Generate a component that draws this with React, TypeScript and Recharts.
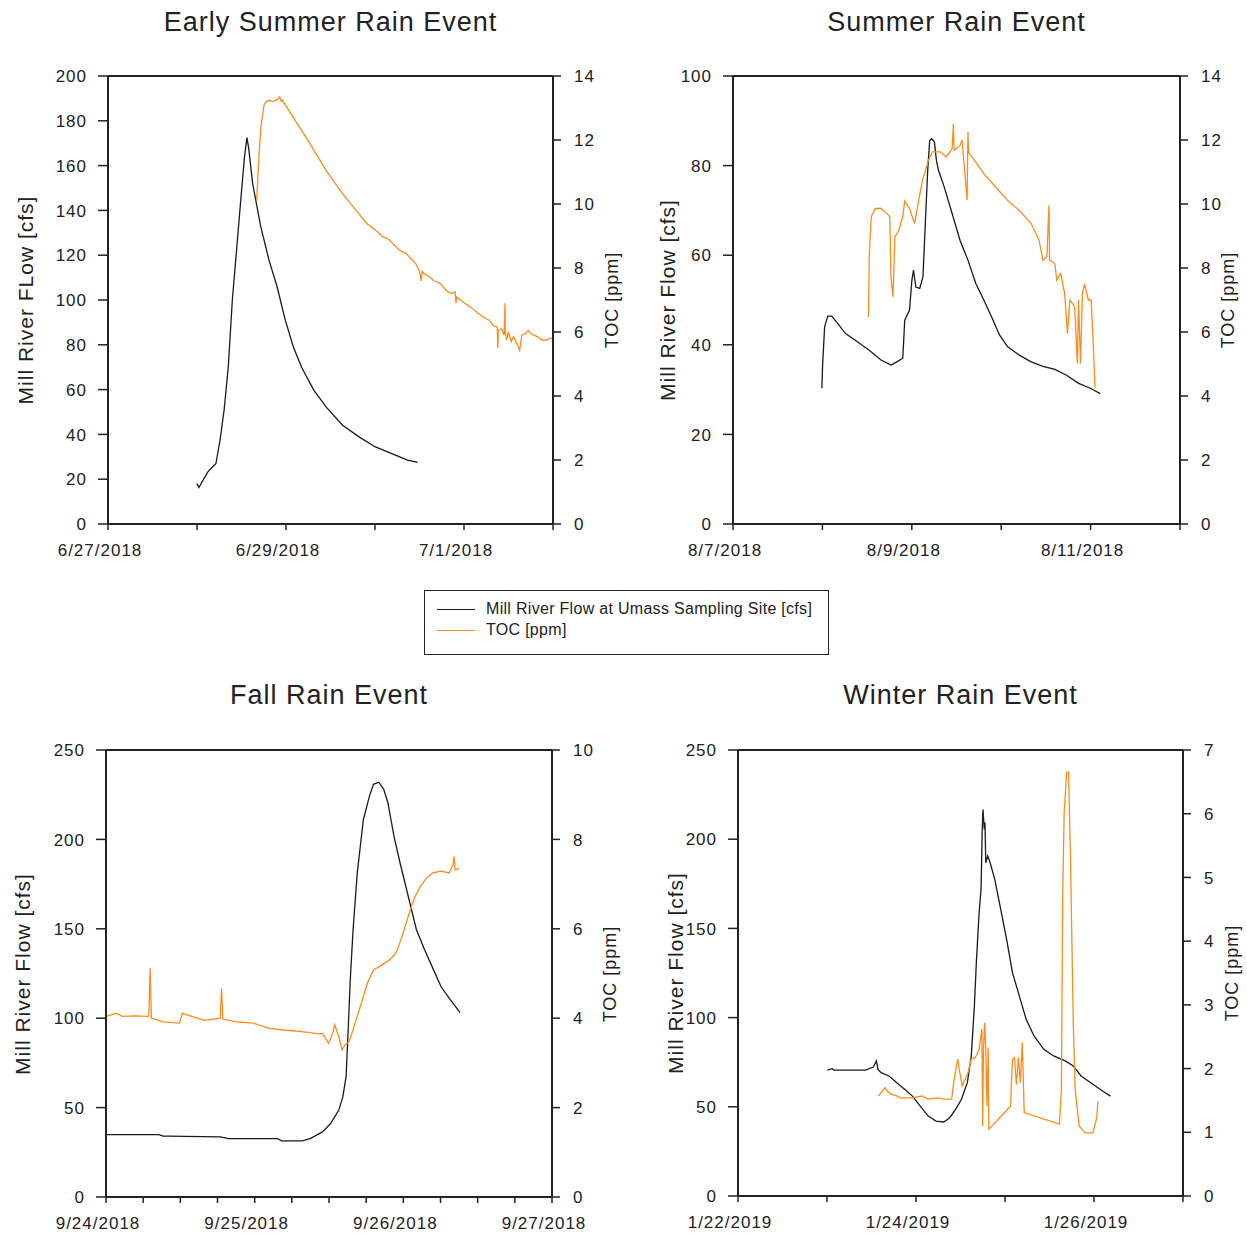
import { LineChart, Line, XAxis, YAxis, ReferenceLine } from 'recharts';

// x values are days since the first date on each panel's axis
const earlyFlow = [
  [0.998, 18], [1.021, 16.3], [1.06, 19], [1.122, 23.3], [1.213, 27], [1.259, 37.5], [1.305, 51],
  [1.351, 70], [1.397, 100], [1.442, 121], [1.488, 143], [1.534, 164], [1.561, 172.5], [1.58, 168],
  [1.625, 152], [1.717, 132.6], [1.809, 117.8], [1.9, 105.9], [1.992, 91], [2.083, 79], [2.175, 70],
  [2.312, 59.8], [2.45, 52.3], [2.633, 44.2], [2.816, 39], [2.999, 34.5], [3.182, 31.5], [3.365, 28.5],
  [3.48, 27.5],
];
const earlyToc = [
  [1.671, 10.1], [1.69, 11.2], [1.717, 12.4], [1.754, 13.1], [1.78, 13.2], [1.809, 13.24], [1.85, 13.2],
  [1.9, 13.26], [1.93, 13.35], [1.946, 13.2], [1.96, 13.25], [1.992, 13.1], [2.083, 12.7], [2.266, 11.9],
  [2.45, 11.05], [2.633, 10.33], [2.816, 9.7], [2.907, 9.39], [2.95, 9.3], [3.0, 9.2], [3.091, 8.97],
  [3.15, 8.9], [3.274, 8.56], [3.35, 8.45], [3.457, 8.14], [3.5, 7.9], [3.52, 7.6], [3.53, 7.9],
  [3.549, 7.83], [3.6, 7.75], [3.66, 7.6], [3.732, 7.52], [3.8, 7.3], [3.85, 7.2], [3.9, 7.25],
  [3.91, 6.9], [3.915, 7.1], [3.98, 6.95], [4.098, 6.73], [4.15, 6.6], [4.2, 6.5], [4.281, 6.37],
  [4.33, 6.2], [4.373, 6.16], [4.38, 5.5], [4.386, 6.05], [4.42, 6.1], [4.45, 5.9], [4.46, 6.9],
  [4.464, 6.0], [4.48, 5.75], [4.5, 6.0], [4.53, 5.7], [4.556, 5.85], [4.6, 5.6], [4.625, 5.43],
  [4.65, 5.9], [4.693, 5.95], [4.72, 6.05], [4.75, 5.95], [4.785, 5.9], [4.83, 5.85], [4.876, 5.75],
  [4.93, 5.75], [4.96, 5.8], [5.0, 5.8],
];

const summerFlow = [
  [0.994, 30.3], [1.003, 35.8], [1.025, 44], [1.06, 46.4], [1.104, 46.4], [1.17, 44.8], [1.259, 42.5],
  [1.391, 40.7], [1.524, 38.8], [1.656, 36.6], [1.767, 35.5], [1.833, 36.2], [1.899, 37], [1.921, 45.5],
  [1.974, 47.7], [2.001, 54.4], [2.019, 56.7], [2.045, 52.9], [2.089, 52.6], [2.125, 55.2], [2.151, 67],
  [2.178, 79], [2.2, 85.6], [2.222, 86], [2.253, 85.3], [2.275, 81.2], [2.297, 79], [2.363, 75.2],
  [2.451, 69.3], [2.54, 63.3], [2.628, 58.9], [2.716, 53.7], [2.805, 50], [2.893, 46.2], [2.981, 42.2],
  [3.07, 39.6], [3.202, 37.7], [3.335, 36.2], [3.467, 35.2], [3.6, 34.5], [3.732, 33.2], [3.865, 31.4],
  [3.997, 30.3], [4.108, 29.1],
];
const summerToc = [
  [1.515, 6.47], [1.524, 8.35], [1.546, 9.6], [1.59, 9.86], [1.656, 9.86], [1.723, 9.7], [1.754, 9.6],
  [1.767, 7.72], [1.789, 7.1], [1.811, 8.97], [1.855, 9.18], [1.899, 9.6], [1.921, 10.1], [1.974, 9.86],
  [2.032, 9.39], [2.076, 10.1], [2.12, 10.74], [2.186, 11.37], [2.231, 11.63], [2.319, 11.63],
  [2.385, 11.47], [2.451, 11.73], [2.465, 12.5], [2.473, 11.68], [2.54, 11.83], [2.562, 12.0],
  [2.619, 10.12], [2.628, 12.25], [2.637, 11.6], [2.716, 11.31], [2.805, 10.95], [2.937, 10.53],
  [3.07, 10.12], [3.202, 9.8], [3.335, 9.39], [3.423, 8.87], [3.467, 8.24], [3.511, 8.35],
  [3.534, 9.96], [3.542, 8.24], [3.6, 8.14], [3.622, 7.62], [3.666, 7.83], [3.71, 7.2], [3.741, 5.95],
  [3.768, 7.0], [3.821, 6.8], [3.852, 5.02], [3.865, 7.0], [3.887, 5.02], [3.909, 7.2], [3.931, 7.5],
  [3.975, 7.0], [4.006, 7.0], [4.028, 5.75], [4.05, 4.24],
];

const fallFlow = [
  [0, 34.9], [0.357, 34.9], [0.385, 34], [0.412, 34], [0.769, 33.6], [0.824, 32.7], [1.154, 32.7],
  [1.181, 31.4], [1.319, 31.4], [1.374, 32.7], [1.456, 36.4], [1.511, 41.1], [1.566, 48.6], [1.593, 56],
  [1.615, 67.3], [1.629, 93.4], [1.643, 121.5], [1.662, 149.5], [1.69, 181.2], [1.731, 211],
  [1.772, 224.2], [1.799, 230.8], [1.835, 232], [1.868, 228], [1.896, 220.5], [1.937, 201.8],
  [1.978, 186.8], [2.033, 168.2], [2.088, 149.5], [2.143, 138.3], [2.198, 128], [2.253, 117.7],
  [2.308, 111.2], [2.382, 103.1],
];
const fallToc = [
  [0, 4.04], [0.069, 4.11], [0.11, 4.04], [0.192, 4.05], [0.288, 4.04], [0.297, 5.12], [0.305, 4.0],
  [0.385, 3.92], [0.495, 3.89], [0.514, 4.11], [0.577, 4.04], [0.659, 3.95], [0.769, 4.0],
  [0.777, 4.67], [0.786, 3.98], [0.879, 3.92], [0.989, 3.89], [1.099, 3.77], [1.209, 3.73],
  [1.319, 3.7], [1.429, 3.65], [1.456, 3.66], [1.497, 3.44], [1.525, 3.66], [1.538, 3.85],
  [1.566, 3.59], [1.58, 3.4], [1.588, 3.29], [1.607, 3.4], [1.635, 3.47], [1.676, 3.89], [1.717, 4.33],
  [1.758, 4.78], [1.799, 5.08], [1.841, 5.16], [1.909, 5.31], [1.951, 5.46], [1.992, 5.83],
  [2.033, 6.28], [2.074, 6.69], [2.115, 6.95], [2.157, 7.14], [2.198, 7.25], [2.253, 7.29],
  [2.308, 7.25], [2.335, 7.44], [2.341, 7.62], [2.349, 7.32], [2.376, 7.35],
];

const winterFlow = [
  [1.004, 70.6], [1.057, 71.4], [1.079, 70.6], [1.432, 70.6], [1.52, 72.3], [1.555, 75.7], [1.573, 71],
  [1.608, 69.1], [1.696, 67.3], [1.784, 63.5], [1.872, 59.8], [1.96, 56], [2.048, 50.4], [2.137, 44.8],
  [2.225, 42], [2.313, 41.5], [2.379, 43.9], [2.445, 48.6], [2.511, 54.2], [2.577, 63.5], [2.621, 78.5],
  [2.656, 106.5], [2.678, 130.8], [2.709, 158.8], [2.731, 171.9], [2.744, 205.5], [2.753, 216.7],
  [2.767, 205.5], [2.775, 209.3], [2.784, 186.8], [2.806, 190.6], [2.833, 186.8], [2.885, 177.5],
  [2.952, 160.7], [3.018, 143.9], [3.084, 125.2], [3.15, 114], [3.238, 99], [3.326, 89.7],
  [3.436, 82.2], [3.546, 78.5], [3.678, 75.7], [3.767, 72.9], [3.855, 67.3], [3.987, 62.6],
  [4.097, 58.9], [4.185, 56],
];
const winterToc = [
  [1.577, 1.57], [1.608, 1.62], [1.652, 1.7], [1.674, 1.65], [1.718, 1.6], [1.784, 1.57], [1.828, 1.54],
  [1.96, 1.54], [2.07, 1.57], [2.137, 1.52], [2.247, 1.54], [2.313, 1.52], [2.401, 1.52], [2.423, 1.78],
  [2.454, 2.04], [2.471, 2.15], [2.485, 1.99], [2.52, 1.73], [2.551, 1.83], [2.586, 1.94], [2.621, 2.15],
  [2.665, 2.17], [2.709, 2.3], [2.74, 2.62], [2.749, 1.1], [2.758, 2.3], [2.771, 2.72], [2.784, 2.3],
  [2.797, 1.41], [2.811, 2.33], [2.819, 1.05], [3.062, 1.41], [3.084, 2.15], [3.106, 2.17],
  [3.128, 1.75], [3.15, 2.17], [3.172, 1.78], [3.194, 2.41], [3.216, 1.31], [3.612, 1.13],
  [3.634, 1.67], [3.648, 4.71], [3.665, 6.02], [3.692, 6.65], [3.714, 6.65], [3.736, 5.29],
  [3.767, 2.72], [3.789, 1.67], [3.833, 1.1], [3.899, 0.99], [3.987, 0.99], [4.031, 1.23], [4.044, 1.49],
];

const dayTicks = [0, 1, 2, 3, 4, 5];
const fallTicks = [0, 0.25, 0.5, 0.75, 1, 1.25, 1.5, 1.75, 2, 2.25, 2.5, 2.75, 3];
const earlyDates = ['6/27/2018', '', '6/29/2018', '', '7/1/2018', ''];
const summerDates = ['8/7/2018', '', '8/9/2018', '', '8/11/2018', ''];
const fallDates = ['9/24/2018', '', '', '', '9/25/2018', '', '', '', '9/26/2018', '', '', '', '9/27/2018'];
const winterDates = ['1/22/2019', '', '1/24/2019', '', '1/26/2019', ''];

const flowTicks200 = [0, 20, 40, 60, 80, 100, 120, 140, 160, 180, 200];
const flowTicks100 = [0, 20, 40, 60, 80, 100];
const flowTicks250 = [0, 50, 100, 150, 200, 250];
const tocTicks14 = [0, 2, 4, 6, 8, 10, 12, 14];
const tocTicks10 = [0, 2, 4, 6, 8, 10];
const tocTicks7 = [0, 1, 2, 3, 4, 5, 6, 7];

const FONT = '"Liberation Sans", Arial, sans-serif';
const INK = '#222';
const ORANGE = '#ff8c1a';

const toRows = (pts: number[][]) => pts.map(([d, v]) => ({ d, v }));

const panels = [
  {
    title: 'Early Summer Rain Event', titleY: 22,
    plot: { l: 108, t: 76, r: 553, b: 524 },
    xTicks: dayTicks, xLabels: earlyDates,
    leftTicks: flowTicks200, rightTicks: tocTicks14,
    flow: earlyFlow, toc: earlyToc,
    leftLabel: 'Mill River FLow [cfs]', leftLabelX: 25, rightLabelX: 612,
  },
  {
    title: 'Summer Rain Event', titleY: 22,
    plot: { l: 733, t: 76, r: 1180, b: 524 },
    xTicks: dayTicks, xLabels: summerDates,
    leftTicks: flowTicks100, rightTicks: tocTicks14,
    flow: summerFlow, toc: summerToc,
    leftLabel: 'Mill River Flow [cfs]', leftLabelX: 667, rightLabelX: 1228,
  },
  {
    title: 'Fall Rain Event', titleY: 695,
    plot: { l: 106, t: 750, r: 552, b: 1197 },
    xTicks: fallTicks, xLabels: fallDates,
    leftTicks: flowTicks250, rightTicks: tocTicks10,
    flow: fallFlow, toc: fallToc,
    leftLabel: 'Mill River Flow [cfs]', leftLabelX: 22, rightLabelX: 610,
  },
  {
    title: 'Winter Rain Event', titleY: 695,
    plot: { l: 738, t: 750, r: 1183, b: 1196 },
    xTicks: dayTicks, xLabels: winterDates,
    leftTicks: flowTicks250, rightTicks: tocTicks7,
    flow: winterFlow, toc: winterToc,
    leftLabel: 'Mill River Flow [cfs]', leftLabelX: 675, rightLabelX: 1232,
  },
];

const tickText = { fill: INK, fontFamily: FONT, fontSize: 17, letterSpacing: 1 };

const XTick = ({ x, y, payload, ticks, labels }: any) => {
  const label = labels[ticks.indexOf(payload.value)] || '';
  return (
    <text x={x - 8} y={y} dy="0.71em" textAnchor="middle" style={tickText}>{label}</text>
  );
};

const YTick = ({ x, y, payload, anchor }: any) => (
  <text x={x} y={y} dy="0.36em" textAnchor={anchor} style={tickText}>{payload.value}</text>
);

const RotLabel = ({ x, y, text, size }: any) => (
  <div
    style={{
      position: 'absolute', left: x, top: y, transform: 'translate(-50%, -50%) rotate(-90deg)',
      whiteSpace: 'nowrap', fontFamily: FONT, fontSize: size, letterSpacing: 1, color: INK, lineHeight: 1,
    }}
  >
    {text}
  </div>
);

const Panel = ({ p }: any) => {
  const w = p.plot.r - p.plot.l;
  const h = p.plot.b - p.plot.t;
  const xMax = p.xTicks[p.xTicks.length - 1];
  const yMax = p.leftTicks[p.leftTicks.length - 1];
  const tMax = p.rightTicks[p.rightTicks.length - 1];
  const midY = (p.plot.t + p.plot.b) / 2;
  return (
    <>
      <div
        style={{
          position: 'absolute', left: (p.plot.l + p.plot.r) / 2, top: p.titleY,
          transform: 'translate(-50%, -50%)', whiteSpace: 'nowrap', fontFamily: FONT,
          fontSize: 27, letterSpacing: 1, color: INK, lineHeight: 1,
        }}
      >
        {p.title}
      </div>
      <RotLabel x={p.leftLabelX} y={midY} text={p.leftLabel} size={21} />
      <RotLabel x={p.rightLabelX} y={midY} text="TOC [ppm]" size={18} />
      <div style={{ position: 'absolute', left: p.plot.l - 100, top: p.plot.t - 20 }}>
        <LineChart width={w + 200} height={h + 70} margin={{ top: 20, right: 0, bottom: 0, left: 0 }}>
          <XAxis
            type="number" dataKey="d" domain={[0, xMax]} ticks={p.xTicks} allowDataOverflow
            height={50} tickSize={6} tickMargin={14} interval={0}
            axisLine={{ stroke: INK, strokeWidth: 2 }} tickLine={{ stroke: INK, strokeWidth: 1.5 }}
            tick={<XTick ticks={p.xTicks} labels={p.xLabels} />}
          />
          <YAxis
            yAxisId="left" type="number" domain={[0, yMax]} ticks={p.leftTicks} allowDataOverflow
            width={100} tickSize={10} tickMargin={11} interval={0}
            axisLine={{ stroke: INK, strokeWidth: 2 }} tickLine={{ stroke: INK, strokeWidth: 1.5 }}
            tick={<YTick anchor="end" />}
          />
          <YAxis
            yAxisId="right" orientation="right" type="number" domain={[0, tMax]} ticks={p.rightTicks}
            allowDataOverflow width={100} tickSize={8} tickMargin={13} interval={0}
            axisLine={{ stroke: INK, strokeWidth: 2 }} tickLine={{ stroke: INK, strokeWidth: 1.5 }}
            tick={<YTick anchor="start" />}
          />
          <ReferenceLine yAxisId="left" y={yMax} stroke={INK} strokeWidth={2} />
          <Line
            yAxisId="left" data={toRows(p.flow)} dataKey="v" type="linear" dot={false}
            stroke="#1a1a1a" strokeWidth={1.3} isAnimationActive={false}
          />
          <Line
            yAxisId="right" data={toRows(p.toc)} dataKey="v" type="linear" dot={false}
            stroke={ORANGE} strokeWidth={1.3} isAnimationActive={false}
          />
        </LineChart>
      </div>
    </>
  );
};

const legendItems = [
  { label: 'Mill River Flow at Umass Sampling Site [cfs]', color: '#1a1a1a' },
  { label: 'TOC [ppm]', color: ORANGE },
];

export default function App() {
  return (
    <div style={{ position: 'absolute', left: 0, top: 0, width: 1247, height: 1241, background: '#fff' }}>
      {panels.map((p) => (
        <Panel key={p.title} p={p} />
      ))}
      <div
        style={{
          position: 'absolute', left: 424, top: 590, width: 405, height: 65, boxSizing: 'border-box',
          border: `1.5px solid ${INK}`, background: '#fff',
        }}
      >
        {legendItems.map((it, i) => (
          <div
            key={it.label}
            style={{
              position: 'absolute', left: 12, top: 10 + i * 21, display: 'flex', alignItems: 'center',
              fontFamily: FONT, fontSize: 16, letterSpacing: 0.3, color: INK, whiteSpace: 'nowrap', lineHeight: 1,
            }}
          >
            <span style={{ display: 'inline-block', width: 38, height: 0, borderTop: `1.5px solid ${it.color}`, marginRight: 11 }} />
            {it.label}
          </div>
        ))}
      </div>
    </div>
  );
}
